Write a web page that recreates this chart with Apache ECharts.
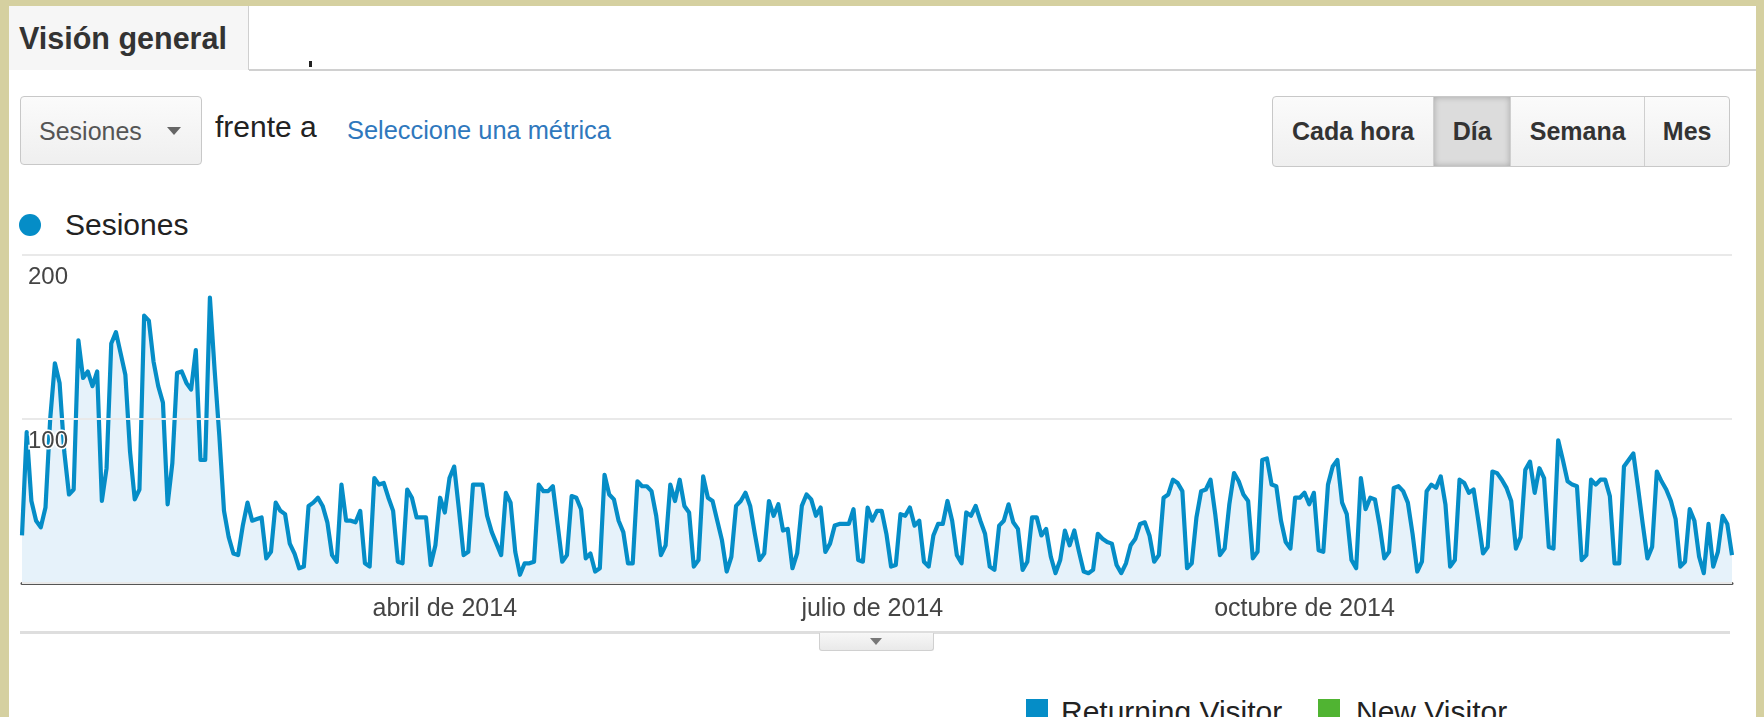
<!DOCTYPE html>
<html>
<head>
<meta charset="utf-8">
<script src="https://cdn.jsdelivr.net/npm/echarts@6/dist/echarts.min.js"></script>
<style>
  html, body { margin:0; padding:0; }
  body { width:1764px; height:717px; overflow:hidden; background:#d5d0a0; position:relative;
         font-family:"Liberation Sans", Arial, sans-serif; }
  .abs { position:absolute; }
  #panel { left:9px; top:6px; width:1747px; height:720px; background:#fff; }
  #tab { left:9px; top:6px; width:239px; height:64px; background:#f6f6f6; border-right:1px solid #cfcfcf; }
  #tabtxt { left:19px; top:20px; font-size:30.5px; font-weight:bold; color:#333; line-height:36px; white-space:nowrap; }
  #tabline { left:249px; top:69px; width:1507px; height:2px; background:#d0d0d0; }
  #mark { left:309px; top:61px; width:3px; height:6px; background:#222; }
  #dd { left:20px; top:96px; width:182px; height:69px; border:1px solid #c8c8c8; border-radius:4px;
        background:linear-gradient(#fbfbfb,#efefef); box-sizing:border-box; }
  #ddtxt { left:39px; top:116px; font-size:25px; color:#555; line-height:30px; }
  #ddtri { left:167px; top:127px; width:0; height:0; border-left:7px solid transparent; border-right:7px solid transparent; border-top:8px solid #666; }
  #frente { left:215px; top:110px; font-size:30px; color:#222; line-height:34px; }
  #selec { left:347px; top:115px; font-size:25.4px; color:#2f78bd; line-height:30px; white-space:nowrap; }
  #btns { left:1272px; top:96px; width:458px; height:71px; border:1px solid #c8c8c8; border-radius:4px;
          box-sizing:border-box; display:flex; overflow:hidden; background:linear-gradient(#fbfbfb,#efefef); }
  #btns div { display:flex; align-items:center; justify-content:center; font-weight:bold; font-size:25px; color:#333;
              border-right:1px solid #cfcfcf; box-sizing:border-box; }
  #btns div:last-child { border-right:none; }
  #btns .sel { background:#dcdcdc; box-shadow:inset 0 0 6px rgba(0,0,0,0.25); }
  #dot { left:19px; top:214px; width:22px; height:22px; border-radius:50%; background:#058dc7; }
  #legtxt { left:65px; top:208px; font-size:30px; color:#222; line-height:34px; }
  #chart { left:0; top:230px; width:1764px; height:400px; }
  #sep { left:20px; top:631px; width:1710px; height:3px; background:#dedede; }
  #tab2 { left:819px; top:633px; width:115px; height:18px; background:linear-gradient(#f7f7f7,#e9e9e9);
          border:1px solid #d0d0d0; border-top:none; box-sizing:border-box; border-radius:0 0 3px 3px; }
  #tab2tri { left:870px; top:638px; width:0; height:0; border-left:6px solid transparent; border-right:6px solid transparent; border-top:7px solid #777; }
  .sq { width:22px; height:30px; }
  .lt { font-size:30px; color:#222; line-height:30px; white-space:nowrap; }
</style>
</head>
<body>
<div id="panel" class="abs"></div>
<div id="tab" class="abs"></div>
<div id="tabtxt" class="abs">Visión general</div>
<div id="tabline" class="abs"></div>
<div id="mark" class="abs"></div>
<div id="dd" class="abs"></div>
<div id="ddtxt" class="abs">Sesiones</div>
<div id="ddtri" class="abs"></div>
<div id="frente" class="abs">frente a</div>
<div id="selec" class="abs">Seleccione una métrica</div>
<div id="btns" class="abs">
  <div style="width:162px">Cada hora</div>
  <div class="sel" style="width:77px">Día</div>
  <div style="width:135px">Semana</div>
  <div style="width:84px">Mes</div>
</div>
<div id="dot" class="abs"></div>
<div id="legtxt" class="abs">Sesiones</div>
<div id="chart" class="abs"></div>
<div id="sep" class="abs"></div>
<div id="tab2" class="abs"></div>
<div id="tab2tri" class="abs"></div>
<div class="abs sq" style="left:1026px;top:699px;background:#058dc7"></div>
<div class="abs lt" style="left:1061px;top:697px">Returning Visitor</div>
<div class="abs sq" style="left:1318px;top:699px;background:#50b432"></div>
<div class="abs lt" style="left:1356px;top:697px">New Visitor</div>

<script>
// Daily sessions, 1 Jan 2014 .. 31 Dec 2014
const sessions = [
  29, 92, 50, 38, 34, 46,100,134,122, 80,
  54, 57,148,125,129,120,129, 50, 70,146,
 153,140,127, 80, 51, 57,163,160,135,120,
 110, 48, 73,128,129,122,118,142, 75, 75,
 174,130, 90, 44, 28, 18, 17, 35, 49, 38,
  39, 40, 15, 19, 49, 44, 42, 24, 18,  9,
  10, 47, 49, 52, 47, 37, 17, 13, 60, 38,
  38, 37, 44, 12, 10, 64, 60, 61, 52, 44,
  13, 12, 57, 52, 40, 40, 40, 11, 23, 52,
  43, 64, 71, 45, 17, 19, 60, 60, 60, 41,
  31, 24, 17, 55, 49, 19,  5, 12, 12, 13,
  60, 56, 56, 59, 36, 13, 17, 53, 52, 45,
  15, 18,  7,  9, 66, 54, 51, 38, 31, 12,
  12, 62, 59, 59, 56, 41, 17, 23, 60, 50,
  63, 47, 43, 10, 14, 65, 52, 50, 38, 26,
   7, 16, 47, 50, 55, 47, 30, 14, 18, 50,
  41, 48, 32, 33,  9, 18, 47, 54, 51, 41,
  46, 19, 24, 35, 36, 36, 36, 45, 14, 13,
  46, 38, 44, 44, 30, 10, 11, 42, 41, 46,
  35, 38, 13, 10, 29, 36, 36, 50, 38, 17,
  12, 43, 41, 47, 38, 30, 10,  8, 35, 38,
  48, 37, 33,  8, 13, 40, 40, 29, 33, 16,
   6, 14, 32, 23, 32, 19,  7,  6,  8, 30,
  27, 25, 24, 11,  6, 12, 23, 27, 36, 37,
  29, 13, 17, 52, 54, 63, 61, 56,  9, 12,
  40, 56, 57, 63, 42, 17, 21, 48, 67, 62,
  54, 50, 15, 19, 75, 76, 60, 59, 38, 25,
  21, 52, 52, 55, 48, 55, 20, 19, 60, 71,
  75, 49, 42, 14,  9, 64, 45, 52, 51, 35,
  15, 19, 58, 59, 56, 49, 30,  7, 13, 56,
  60, 58, 65, 48, 10, 14, 63, 61, 55, 57,
  38, 18, 22, 68, 67, 63, 58, 50, 21, 28,
  69, 74, 55, 70, 64, 22, 21, 87, 75, 62,
  60, 59, 14, 17, 63, 60, 63, 63, 53, 12,
  12, 71, 75, 79, 58, 36, 15, 22, 68, 62,
  57, 50, 39, 10, 13, 45, 38, 16,  6, 36,
  10, 19, 41, 36, 17
];
const startDate = [2014, 0, 1];
const tickDates = ['2014-04-01', '2014-07-01', '2014-10-01'];
const tickLabels = ['abril de 2014', 'julio de 2014', 'octubre de 2014'];
const yMin = 0, yMax = 200, yStep = 100;

const dates = sessions.map((_, i) => {
  const d = new Date(Date.UTC(startDate[0], startDate[1], startDate[2] + i));
  return d.toISOString().slice(0, 10);
});

const FONT = '"Liberation Sans", Arial, sans-serif';
const chart = echarts.init(document.getElementById('chart'), null, { renderer: 'canvas' });
chart.setOption({
  animation: false,
  grid: { left: 22, right: 32, top: 25, bottom: 47 },
  xAxis: {
    type: 'category',
    data: dates,
    boundaryGap: false,
    axisLine: { lineStyle: { color: '#555', width: 3 } },
    axisTick: { show: false },
    splitLine: { show: false },
    axisLabel: {
      interval: (i, v) => tickDates.includes(v),
      formatter: v => tickLabels[tickDates.indexOf(v)] || '',
      color: '#444', fontSize: 25, margin: 14, fontFamily: FONT
    }
  },
  yAxis: {
    type: 'value',
    min: yMin, max: yMax, interval: yStep,
    z: 3,
    axisLine: { show: false },
    axisTick: { show: false },
    splitLine: { lineStyle: { color: '#e9e9e9', width: 2 } },
    axisLabel: {
      inside: true, margin: 6, verticalAlign: 'top', padding: [10, 0, 0, 0],
      showMinLabel: false,
      formatter: v => (v === 0 ? '' : String(v)),
      color: '#444', fontSize: 24, fontFamily: FONT,
      textBorderColor: '#fff', textBorderWidth: 3
    }
  },
  series: [{
    type: 'line',
    name: 'Sesiones',
    data: sessions,
    symbol: 'none',
    showSymbol: false,
    z: 2,
    lineStyle: { color: '#058dc7', width: 4.2, join: 'round' },
    areaStyle: { color: '#e6f2fa', opacity: 1 }
  }]
});
</script>
</body>
</html>
